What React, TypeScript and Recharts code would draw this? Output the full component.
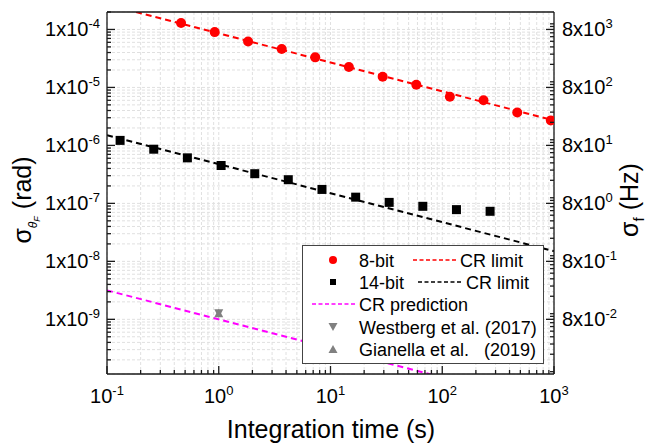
import React from "react";
import {
  ComposedChart,
  Line,
  Scatter,
  XAxis,
  YAxis,
  CartesianGrid,
  Legend,
} from "recharts";

const FONT = "'Liberation Sans', Arial, sans-serif";

// 8-bit measurement: integration time (s) vs sigma (rad)
const bit8Time = [0.46, 0.92, 1.83, 3.66, 7.3, 14.6, 29.3, 58.6, 117, 234, 469, 937];
const bit8Sigma = [1.29e-4, 9.0e-5, 6.2e-5, 4.6e-5, 3.3e-5, 2.25e-5, 1.53e-5, 1.11e-5, 6.9e-6, 6.0e-6, 3.7e-6, 2.7e-6];

// 14-bit measurement
const bit14Time = [0.131, 0.262, 0.524, 1.05, 2.1, 4.19, 8.39, 16.8, 33.5, 67, 134, 268];
const bit14Sigma = [1.22e-6, 8.6e-7, 6.1e-7, 4.5e-7, 3.25e-7, 2.56e-7, 1.74e-7, 1.28e-7, 1.04e-7, 8.9e-8, 7.8e-8, 7.3e-8];

// Cramer-Rao lines (end points)
const crTime = [0.1, 1000];
const cr8Sigma = [2.7e-4, 2.7e-6];
const cr14Sigma = [1.5e-6, 1.5e-8];
const crPredSigma = [3.16e-9, 3.16e-11];

// literature points
const westbergTime = [1];
const westbergSigma = [1.27e-9];
const gianellaTime = [1];
const gianellaSigma = [1.27e-9];

// axes
const xDomain = [0.1, 1000];
const yDomain = [1.14e-10, 2e-4];
const hzPerRad = 8e7;
const xMajor = [0.1, 1, 10, 100, 1000];
const yDecades = [1e-10, 1e-9, 1e-8, 1e-7, 1e-6, 1e-5, 1e-4];
const rDecades = [1e-3, 1e-2, 1e-1, 1, 10, 100, 1000, 1e4];
const mult = [1, 2, 3, 4, 5, 6, 7, 8, 9];

const zip = (t: number[], v: number[]) => t.map((x, i) => ({ t: x, v: v[i] }));

const bit8 = zip(bit8Time, bit8Sigma);
const bit14 = zip(bit14Time, bit14Sigma);
const cr8 = zip(crTime, cr8Sigma);
const cr14 = zip(crTime, cr14Sigma);
const crPred = zip(crTime, crPredSigma);
const westberg = zip(westbergTime, westbergSigma);
const gianella = zip(gianellaTime, gianellaSigma);

const rDomain = [yDomain[0] * hzPerRad, yDomain[1] * hzPerRad];
const inRange = (d: number[]) => (v: number) => v >= d[0] * 0.999999 && v <= d[1] * 1.000001;
const xTicks = xMajor.flatMap((d) => mult.map((k) => k * d)).filter(inRange(xDomain));
const yTicks = yDecades.flatMap((d) => mult.map((k) => k * d)).filter(inRange(yDomain));
const rTicks = rDecades.flatMap((d) => mult.map((k) => k * d)).filter(inRange(rDomain));

const isPow10 = (v: number) => Math.abs(Math.log10(v) - Math.round(Math.log10(v))) < 1e-6;
const expOf = (v: number) => String(Math.round(Math.log10(v)));

const INK = "#1a1a1a";

const BottomTick = (p: any) => {
  const v = p.payload.value;
  const major = isPow10(v);
  return (
    <g>
      <line x1={p.x} x2={p.x} y1={p.y} y2={p.y - (major ? 8 : 4)} stroke={INK} strokeWidth={1.3} />
      {major && (
        <text x={p.x} y={p.y + 29} textAnchor="middle" fontSize={20} fontFamily={FONT} fill="#000">
          10<tspan dy={-8} fontSize={13}>{expOf(v)}</tspan>
        </text>
      )}
    </g>
  );
};

const TopTick = (p: any) => {
  const major = isPow10(p.payload.value);
  return <line x1={p.x} x2={p.x} y1={p.y} y2={p.y + (major ? 8 : 4)} stroke={INK} strokeWidth={1.3} />;
};

const LeftTick = (p: any) => {
  const v = p.payload.value;
  const major = isPow10(v);
  return (
    <g>
      <line x1={p.x} x2={p.x + (major ? 8 : 4)} y1={p.y} y2={p.y} stroke={INK} strokeWidth={1.3} />
      {major && (
        <text x={p.x - 7} y={p.y + 7} textAnchor="end" fontSize={20} fontFamily={FONT} fill="#000">
          1x10<tspan dy={-8} fontSize={13}>{expOf(v)}</tspan>
        </text>
      )}
    </g>
  );
};

const RightTick = (p: any) => {
  const v = p.payload.value;
  const major = isPow10(v / 8);
  return (
    <g>
      <line x1={p.x} x2={p.x - (major ? 8 : 4)} y1={p.y} y2={p.y} stroke={INK} strokeWidth={1.3} />
      {major && (
        <text x={p.x + 8} y={p.y + 7} textAnchor="start" fontSize={20} fontFamily={FONT} fill="#000">
          8x10<tspan dy={-8} fontSize={13}>{expOf(v / 8)}</tspan>
        </text>
      )}
    </g>
  );
};

const XTitle = () => (
  <text x={331} y={438} textAnchor="middle" fontSize={25} fontFamily={FONT} fill="#000">
    Integration time (s)
  </text>
);

const LeftTitle = () => (
  <text transform="translate(31,200) rotate(-90)" textAnchor="middle" fontSize={25} fontFamily={FONT} fill="#000">
    σ
    <tspan dy={6} fontSize={12} fontStyle="italic">θ</tspan>
    <tspan dy={3} fontSize={9} fontStyle="italic">F</tspan>
    <tspan dy={-9} fontSize={25}> (rad)</tspan>
  </text>
);

const RightTitle = () => (
  <text transform="translate(638,200) rotate(-90)" textAnchor="middle" fontSize={25} fontFamily={FONT} fill="#000">
    σ
    <tspan dy={6} fontSize={15}>f</tspan>
    <tspan dy={-6} fontSize={25}> (Hz)</tspan>
  </text>
);

const Circle = (p: any) => <circle cx={p.cx} cy={p.cy} r={5} fill="#ff0000" />;
const Square = (p: any) => <rect x={p.cx - 4.5} y={p.cy - 4.5} width={9} height={9} fill="#000" />;
const TriDown = (p: any) => (
  <polygon points={`${p.cx - 4.5},${p.cy - 4} ${p.cx + 4.5},${p.cy - 4} ${p.cx},${p.cy + 4.5}`} fill="#808080" />
);
const TriUp = (p: any) => (
  <polygon points={`${p.cx - 4.5},${p.cy + 4} ${p.cx + 4.5},${p.cy + 4} ${p.cx},${p.cy - 4.5}`} fill="#808080" />
);

const LegendBox = () => {
  const tx = 57;
  const txt = (y: number, s: string, x = tx) => (
    <text x={x} y={y + 6.5} fontSize={18} fontFamily={FONT} fill="#000" style={{ whiteSpace: "pre" }}>
      {s}
    </text>
  );
  return (
    <svg width={242} height={119} style={{ display: "block" }}>
      <rect x={0.5} y={0.5} width={241} height={118} fill="#fff" stroke="#444" strokeWidth={1} />
      <circle cx={31} cy={15} r={4} fill="#ff0000" />
      {txt(15, "8-bit")}
      <line x1={111} x2={155} y1={15} y2={15} stroke="#ff0000" strokeWidth={1.6} strokeDasharray="4 2.5" />
      {txt(15, "CR limit", 158)}
      <rect x={28} y={34} width={6} height={6} fill="#000" />
      {txt(37, "14-bit")}
      <line x1={116} x2={160} y1={37} y2={37} stroke="#000" strokeWidth={1.6} strokeDasharray="4 2.5" />
      {txt(37, "CR limit", 164)}
      <line x1={10} x2={55} y1={59} y2={59} stroke="#ff00ff" strokeWidth={1.6} strokeDasharray="4 2.5" />
      {txt(59, "CR prediction")}
      <polygon points="26.5,78 35.5,78 31,86" fill="#808080" />
      {txt(82, "Westberg et al. (2017)")}
      <polygon points="26.5,108 35.5,108 31,100" fill="#808080" />
      {txt(104, "Gianella et al.   (2019)")}
    </svg>
  );
};

export default function App() {
  return (
    <div style={{ position: "absolute", left: 0, top: 0, width: 658, height: 443, background: "#fff" }}>
      <ComposedChart width={658} height={443} margin={{ top: 0, right: 0, bottom: 0, left: 0 }}>
        <CartesianGrid stroke="#e0e0e0" strokeDasharray="3 2" strokeWidth={1} />
        <XAxis
          dataKey="t"
          type="number"
          scale="log"
          domain={xDomain}
          allowDataOverflow
          ticks={xTicks}
          interval={0}
          height={69}
          tickSize={0}
          tickMargin={0}
          tickLine={false}
          tick={BottomTick}
          axisLine={{ stroke: INK, strokeWidth: 1.3 }}
          label={XTitle}
        />
        <XAxis
          xAxisId="top"
          orientation="top"
          type="number"
          scale="log"
          domain={xDomain}
          allowDataOverflow
          ticks={xTicks}
          interval={0}
          height={12}
          tickSize={0}
          tickMargin={0}
          tickLine={false}
          tick={TopTick}
          axisLine={{ stroke: INK, strokeWidth: 1.3 }}
        />
        <YAxis
          dataKey="v"
          type="number"
          scale="log"
          domain={yDomain}
          allowDataOverflow
          ticks={yTicks}
          interval={0}
          width={107}
          tickSize={0}
          tickMargin={0}
          tickLine={false}
          tick={LeftTick}
          axisLine={{ stroke: INK, strokeWidth: 1.3 }}
          label={LeftTitle}
        />
        <YAxis
          yAxisId="right"
          orientation="right"
          type="number"
          scale="log"
          domain={rDomain}
          allowDataOverflow
          ticks={rTicks}
          interval={0}
          width={104}
          tickSize={0}
          tickMargin={0}
          tickLine={false}
          tick={RightTick}
          axisLine={{ stroke: INK, strokeWidth: 1.3 }}
          label={RightTitle}
        />
        <Line data={cr8} dataKey="v" stroke="#ff0000" strokeWidth={2} strokeDasharray="6 4" dot={false} isAnimationActive={false} />
        <Line data={cr14} dataKey="v" stroke="#000" strokeWidth={2} strokeDasharray="6 4" dot={false} isAnimationActive={false} />
        <Line data={crPred} dataKey="v" stroke="#ff00ff" strokeWidth={2} strokeDasharray="6 4" dot={false} isAnimationActive={false} />
        <Scatter data={bit8} dataKey="v" shape={Circle} isAnimationActive={false} />
        <Scatter data={bit14} dataKey="v" shape={Square} isAnimationActive={false} />
        <Scatter data={westberg} dataKey="v" shape={TriDown} isAnimationActive={false} />
        <Scatter data={gianella} dataKey="v" shape={TriUp} isAnimationActive={false} />
        <Legend
          layout="vertical"
          align="center"
          verticalAlign="middle"
          content={LegendBox}
          wrapperStyle={{ left: 302, top: 245, width: 242, height: 119 }}
        />
      </ComposedChart>
    </div>
  );
}
